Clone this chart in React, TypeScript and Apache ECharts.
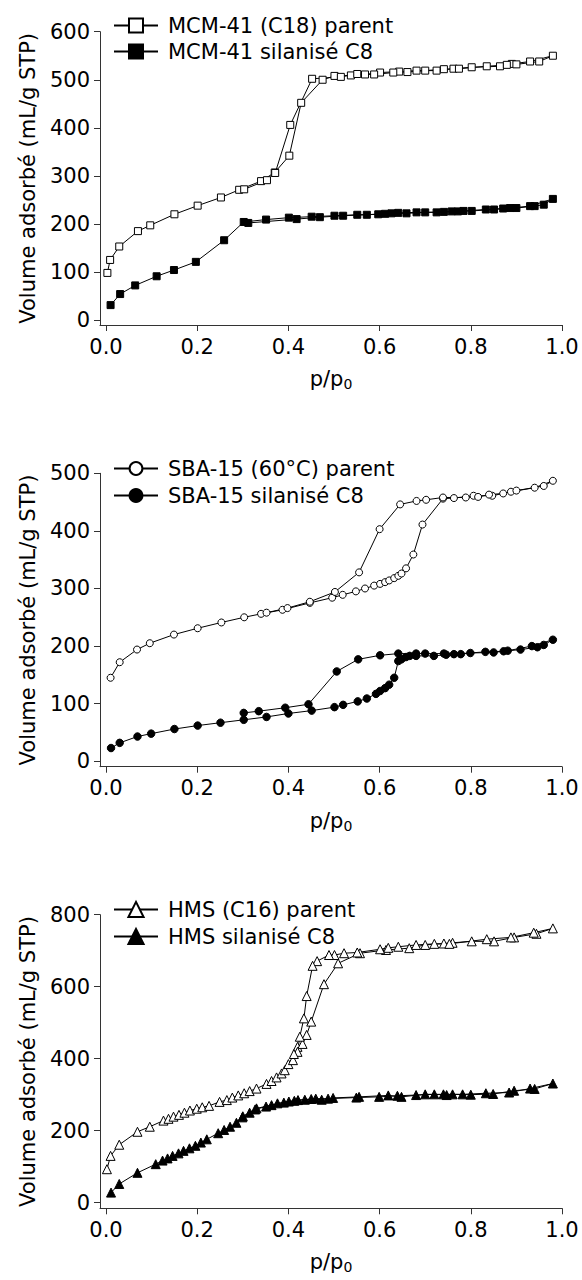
import React, { useEffect, useRef } from "react";
import * as echarts from "echarts";

// ---- Data (p/p0, volume adsorbed mL/g STP) ----
const mcmParentAds = [[0.003,98],[0.009,125],[0.029,153],[0.070,185],[0.097,197],[0.150,220],[0.201,238],[0.252,255],[0.292,271],[0.340,289],[0.370,307],[0.402,342],[0.428,452],[0.475,500],[0.501,508],[0.537,509],[0.568,511],[0.601,515],[0.643,517],[0.681,519],[0.725,519],[0.762,523],[0.802,526],[0.864,528],[0.890,533],[0.930,538],[0.980,550]];
const mcmParentDes = [[0.950,538],[0.900,532],[0.879,531],[0.835,528],[0.774,523],[0.741,522],[0.700,519],[0.661,516],[0.630,515],[0.588,511],[0.551,512],[0.515,506],[0.452,502],[0.404,406],[0.371,306],[0.353,291],[0.303,272]];
const mcmSilAds = [[0.010,31],[0.031,54],[0.064,72],[0.111,91],[0.149,104],[0.197,121],[0.259,166],[0.302,204],[0.351,209],[0.401,213],[0.451,215],[0.501,217],[0.551,219],[0.597,220],[0.626,222],[0.659,222],[0.700,224],[0.741,225],[0.772,226],[0.802,227],[0.851,230],[0.886,233],[0.930,237],[0.980,252]];
const mcmSilDes = [[0.960,240],[0.940,237],[0.900,233],[0.871,232],[0.833,230],[0.784,227],[0.758,226],[0.725,224],[0.681,224],[0.641,223],[0.612,221],[0.572,219],[0.520,217],[0.469,214],[0.418,210],[0.312,202]];

const sbaParentAds = [[0.010,145],[0.030,172],[0.068,194],[0.096,205],[0.149,220],[0.201,231],[0.253,241],[0.303,250],[0.340,256],[0.387,263],[0.447,275],[0.496,284],[0.519,289],[0.548,295],[0.568,300],[0.588,305],[0.601,308],[0.612,311],[0.621,314],[0.632,318],[0.641,322],[0.648,326],[0.658,335],[0.674,359],[0.694,411],[0.739,456],[0.763,457],[0.806,461],[0.847,461],[0.888,468],[0.940,475],[0.980,487]];
const sbaParentDes = [[0.960,478],[0.900,470],[0.871,465],[0.840,463],[0.816,459],[0.789,458],[0.739,458],[0.702,454],[0.681,452],[0.645,446],[0.600,403],[0.555,328],[0.502,294],[0.447,277],[0.398,266],[0.352,258]];
const sbaSilAds = [[0.011,23],[0.030,32],[0.069,43],[0.099,48],[0.150,56],[0.201,62],[0.251,67],[0.302,72],[0.352,77],[0.400,83],[0.451,88],[0.501,94],[0.520,98],[0.552,104],[0.572,109],[0.592,117],[0.601,122],[0.612,127],[0.621,133],[0.632,145],[0.641,174],[0.648,177],[0.658,181],[0.666,183],[0.680,183],[0.719,183],[0.746,185],[0.778,186],[0.799,188],[0.850,189],[0.881,192],[0.934,200],[0.980,211]];
const sbaSilDes = [[0.960,202],[0.946,198],[0.909,194],[0.872,191],[0.832,190],[0.763,186],[0.741,187],[0.700,187],[0.680,187],[0.641,187],[0.601,184],[0.553,177],[0.506,156],[0.444,99],[0.393,93],[0.335,87],[0.302,84]];

const hmsParentAds = [[0.002,93],[0.010,130],[0.029,161],[0.069,197],[0.096,211],[0.126,228],[0.137,233],[0.148,239],[0.160,244],[0.172,250],[0.184,256],[0.199,261],[0.211,265],[0.226,269],[0.249,280],[0.265,285],[0.277,292],[0.290,298],[0.303,304],[0.315,310],[0.330,317],[0.352,330],[0.363,338],[0.374,348],[0.385,359],[0.392,368],[0.400,385],[0.410,396],[0.420,433],[0.431,441],[0.440,466],[0.450,503],[0.478,607],[0.509,665],[0.557,693],[0.614,702],[0.665,707],[0.700,716],[0.741,720],[0.760,722],[0.802,726],[0.851,726],[0.895,737],[0.944,747],[0.980,762]];
const hmsParentDes = [[0.938,750],[0.888,737],[0.835,732],[0.753,719],[0.720,719],[0.680,716],[0.641,711],[0.619,708],[0.601,704],[0.551,695],[0.522,693],[0.501,688],[0.489,688],[0.463,671],[0.453,658],[0.440,574],[0.434,512],[0.425,461],[0.420,419],[0.412,413]];
const hmsSilAds = [[0.011,28],[0.029,52],[0.069,83],[0.109,107],[0.124,117],[0.135,123],[0.146,130],[0.159,137],[0.170,144],[0.183,151],[0.196,158],[0.208,167],[0.221,176],[0.246,193],[0.259,202],[0.272,211],[0.286,222],[0.299,237],[0.315,250],[0.327,259],[0.351,267],[0.376,276],[0.401,281],[0.421,285],[0.450,288],[0.473,286],[0.498,291],[0.555,294],[0.619,298],[0.648,294],[0.700,301],[0.740,301],[0.782,301],[0.833,304],[0.884,306],[0.930,317],[0.980,331]];
const hmsSilDes = [[0.940,316],[0.895,311],[0.849,302],[0.800,300],[0.760,301],[0.747,299],[0.720,301],[0.680,299],[0.639,297],[0.599,294],[0.549,292],[0.487,289],[0.460,289],[0.436,286],[0.413,283],[0.390,278],[0.363,271],[0.330,262],[0.300,240]];

const xTicks = [0, 0.2, 0.4, 0.6, 0.8, 1.0];
const yTicks1 = [0, 100, 200, 300, 400, 500, 600];
const yTicks2 = [0, 100, 200, 300, 400, 500];
const yTicks3 = [0, 200, 400, 600, 800];

const names = [
  "MCM-41 (C18) parent", "MCM-41 silanisé C8",
  "SBA-15 (60°C) parent", "SBA-15 silanisé C8",
  "HMS (C16) parent", "HMS silanisé C8",
];

const FONT = "DejaVu Sans";
const AXIS_COLOR = "#333";

function mkSeries(name: string, data: number[][], idx: number, symbol: string, filled: boolean, size: number) {
  return {
    type: "line",
    name,
    data,
    xAxisIndex: idx,
    yAxisIndex: idx,
    symbol,
    symbolSize: size,
    showSymbol: true,
    showAllSymbol: true,
    clip: false,
    lineStyle: { color: "#000", width: 1 },
    itemStyle: { color: filled ? "#000" : "#fff", borderColor: "#000", borderWidth: 1 },
    emphasis: { disabled: true },
    z: filled ? 3 : 2,
  };
}

function mkXAxis(idx: number) {
  return {
    type: "value",
    gridIndex: idx,
    min: -0.0132,
    max: 1,
    name: "p/p{s|0}",
    nameLocation: "middle",
    nameGap: 42,
    nameTextStyle: {
      fontFamily: FONT, fontSize: 21, color: "#000",
      rich: { s: { fontFamily: FONT, fontSize: 14, color: "#000", padding: [10, 0, 0, 0] } },
    },
    axisLine: { show: true, onZero: false, lineStyle: { color: AXIS_COLOR, width: 1 } },
    axisTick: { show: true, inside: false, length: 6, customValues: xTicks, lineStyle: { color: AXIS_COLOR } },
    axisLabel: {
      customValues: xTicks,
      formatter: (v: number) => v.toFixed(1),
      fontFamily: FONT, fontSize: 21, color: "#000", margin: 11,
    },
    splitLine: { show: false },
  };
}

function mkYAxis(idx: number, min: number, max: number, ticks: number[]) {
  return {
    type: "value",
    gridIndex: idx,
    min,
    max,
    name: "Volume adsorbé (mL/g STP)",
    nameLocation: "middle",
    nameGap: 62,
    nameTextStyle: { fontFamily: FONT, fontSize: 21, color: "#000" },
    axisLine: { show: true, onZero: false, lineStyle: { color: AXIS_COLOR, width: 1 } },
    axisTick: { show: true, inside: false, length: 6, customValues: ticks, lineStyle: { color: AXIS_COLOR } },
    axisLabel: {
      customValues: ticks,
      formatter: (v: number) => String(Math.round(v)),
      fontFamily: FONT, fontSize: 21, color: "#000", margin: 10,
    },
    splitLine: { show: false },
  };
}

function mkLegend(top: number, data: string[], itemHeight: number, gap: number) {
  return {
    orient: "vertical",
    left: 108,
    top,
    itemWidth: 44,
    itemHeight,
    itemGap: gap,
    data,
    selectedMode: false,
    textStyle: { fontFamily: FONT, fontSize: 21, color: "#000", padding: [0, 0, 0, 5] },
  };
}

export default function App() {
  const ref = useRef<HTMLDivElement>(null);
  useEffect(() => {
    if (!ref.current) return;
    const chart = echarts.init(ref.current, undefined, { renderer: "svg" });
    chart.setOption({
      animation: false,
      backgroundColor: "#fff",
      grid: [
        { left: 100, top: 31.7, width: 462, height: 293.3 },
        { left: 100, top: 473.3, width: 462, height: 293.4 },
        { left: 100, top: 914.7, width: 462, height: 293.6 },
      ],
      xAxis: [mkXAxis(0), mkXAxis(1), mkXAxis(2)],
      yAxis: [
        mkYAxis(0, -10.4, 600, yTicks1),
        mkYAxis(1, -9.4, 500, yTicks2),
        mkYAxis(2, -15.6, 800, yTicks3),
      ],
      legend: [
        mkLegend(10, [names[0], names[1]], 17.5, 5),
        mkLegend(453, [names[2], names[3]], 16, 6),
        mkLegend(894, [names[4], names[5]], 19, 6),
      ],
      series: [
        mkSeries(names[0], [...mcmParentAds, ...mcmParentDes], 0, "rect", false, 7),
        mkSeries(names[1], [...mcmSilAds, ...mcmSilDes], 0, "rect", true, 7),
        mkSeries(names[2], [...sbaParentAds, ...sbaParentDes], 1, "circle", false, 7),
        mkSeries(names[3], [...sbaSilAds, ...sbaSilDes], 1, "circle", true, 7.5),
        mkSeries(names[4], [...hmsParentAds, ...hmsParentDes], 2, "triangle", false, 9),
        mkSeries(names[5], [...hmsSilAds, ...hmsSilDes], 2, "triangle", true, 9),
      ],
    });
    return () => chart.dispose();
  }, []);
  return (
    <div
      ref={ref}
      style={{ position: "absolute", left: 0, top: 0, width: 582, height: 1280, background: "#fff" }}
    />
  );
}
